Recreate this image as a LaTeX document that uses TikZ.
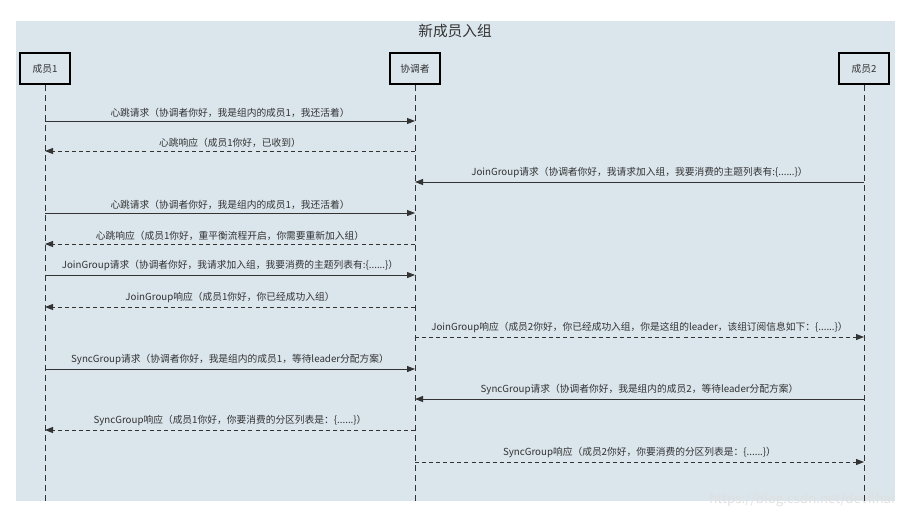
\documentclass[tikz,border=0pt]{standalone}
\usepackage{fontspec}
\setmainfont{Noto Sans CJK SC}
\usetikzlibrary{arrows.meta, positioning}

\definecolor{bgblue}{RGB}{218,229,236}
\definecolor{ink}{RGB}{51,51,51}

\tikzset{
	actor/.style={draw=black, line width=1.3pt, fill=bgblue, minimum width=37.5pt, minimum height=23.25pt, inner sep=0pt, font=\fontsize{7.3}{8}\selectfont, text=ink},
	life/.style={draw=ink, line width=0.6pt, dash pattern=on 4.5pt off 3pt},
	req/.style={draw=ink, line width=0.7pt, -{Triangle[length=6pt,width=4.5pt]}},
	resp/.style={req, dash pattern=on 3pt off 2.3pt},
	lbl/.style={above=1.5pt, inner sep=1pt, font=\fontsize{7.3}{8}\selectfont, text=ink}
}

\begin{document}
\begin{tikzpicture}[x=0.75pt, y=-0.75pt]
	\useasboundingbox (0,0) rectangle (912,519);
	\fill[bgblue] (16,21) rectangle (895,501);

	\node[font=\fontsize{11}{12}\selectfont, text=ink] (title) at (455,31) {新成员入组};

	% participants
	\node[actor] (m1) at (45,68.5) {成员1};
	\node[actor] (co) at (415,68.5) {协调者};
	\node[actor] (m2) at (864,68.5) {成员2};

	\coordinate (bot) at (0,501);
	\draw[life] (m1.south) -- (m1 |- bot);
	\draw[life] (co.south) -- (co |- bot);
	\draw[life] (m2.south) -- (m2 |- bot);

	% message rows
	\coordinate (r1) at (0,121);
	\coordinate (r2) at (0,151);
	\coordinate (r3) at (0,182);
	\coordinate (r4) at (0,213);
	\coordinate (r5) at (0,244);
	\coordinate (r6) at (0,275);
	\coordinate (r7) at (0,307);
	\coordinate (r8) at (0,337);
	\coordinate (r9) at (0,369);
	\coordinate (r10) at (0,399);
	\coordinate (r11) at (0,430);
	\coordinate (r12) at (0,462);

	\draw[req] (m1 |- r1) -- node[lbl] {心跳请求（协调者你好，我是组内的成员1，我还活着）} (co |- r1);
	\draw[resp] (co |- r2) -- node[lbl] {心跳响应（成员1你好，已收到）} (m1 |- r2);
	\draw[req] (m2 |- r3) -- node[lbl] {JoinGroup请求（协调者你好，我请求加入组，我要消费的主题列表有:\{......\}）} (co |- r3);
	\draw[req] (m1 |- r4) -- node[lbl] {心跳请求（协调者你好，我是组内的成员1，我还活着）} (co |- r4);
	\draw[resp] (co |- r5) -- node[lbl] {心跳响应（成员1你好，重平衡流程开启，你需要重新加入组）} (m1 |- r5);
	\draw[req] (m1 |- r6) -- node[lbl] {JoinGroup请求（协调者你好，我请求加入组，我要消费的主题列表有:\{......\}）} (co |- r6);
	\draw[resp] (co |- r7) -- node[lbl] {JoinGroup响应（成员1你好，你已经成功入组）} (m1 |- r7);
	\draw[resp] (co |- r8) -- node[lbl] {JoinGroup响应（成员2你好，你已经成功入组，你是这组的leader，该组订阅信息如下：\{......\}）} (m2 |- r8);
	\draw[req] (m1 |- r9) -- node[lbl] {SyncGroup请求（协调者你好，我是组内的成员1，等待leader分配方案）} (co |- r9);
	\draw[req] (m2 |- r10) -- node[lbl] {SyncGroup请求（协调者你好，我是组内的成员2，等待leader分配方案）} (co |- r10);
	\draw[resp] (co |- r11) -- node[lbl] {SyncGroup响应（成员1你好，你要消费的分区列表是：\{......\}）} (m1 |- r11);
	\draw[resp] (co |- r12) -- node[lbl] {SyncGroup响应（成员2你好，你要消费的分区列表是：\{......\}）} (m2 |- r12);

	\node[font=\fontsize{10}{11}\selectfont, text=black!12] (mark) at (802,500) {https://blog.csdn.net/devilhai};
\end{tikzpicture}
\end{document}
